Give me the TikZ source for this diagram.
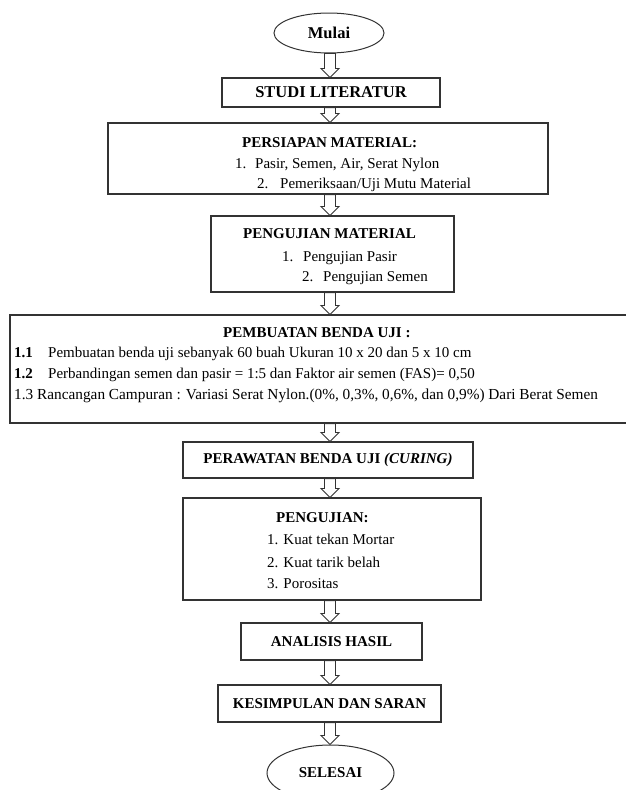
\documentclass[tikz,border=0pt]{standalone}
\usepackage{fontspec}
\setmainfont{Liberation Serif}
\usetikzlibrary{calc,shapes.geometric}
\definecolor{boxline}{gray}{0.2}
\tikzset{
  box/.style={draw=boxline, line width=1.1pt, inner sep=0pt, fill=white, rectangle, font=\fontsize{15}{18}\selectfont\bfseries},
  oval/.style={draw=boxline, line width=1pt, inner sep=0pt, fill=white, ellipse, font=\fontsize{15}{18}\selectfont\bfseries},
  txt/.style={anchor=base west, inner sep=0pt, font=\fontsize{15}{18}\selectfont},
  harrow/.style={draw=boxline, line width=0.9pt, fill=white, line join=miter},
}
\newcommand\hollowarrow[2]{%
  \draw[harrow] let \p1=(#1.south), \p2=(#2.north), \p3=(axis) in
    (\x3-5.5pt,\y1) -- (\x3+5.5pt,\y1) -- (\x3+5.5pt,\y2+9pt) -- (\x3+9pt,\y2+9pt)
    -- (\x3,\y2) -- (\x3-9pt,\y2+9pt) -- (\x3-5.5pt,\y2+9pt) -- cycle;}
\begin{document}
\begin{tikzpicture}[x=1pt,y=-1pt]
\useasboundingbox (0,0) rectangle (626,790);
\clip (0,0) rectangle (626,790);
\fill[white] (0,0) rectangle (626,790);
\coordinate (axis) at (330,0);

% boxes
\node[oval, minimum width=110pt, minimum height=40pt, font=\fontsize{16.5}{18}\selectfont\bfseries] (mulai) at (329,33) {Mulai};
\node[box, minimum width=218pt, minimum height=29pt, font=\fontsize{16.5}{18}\selectfont\bfseries] (studi) at (331,92.5) {STUDI LITERATUR};
\node[box, minimum width=440pt, minimum height=71pt] (persiapan) at (328,158.5) {};
\node[box, minimum width=243pt, minimum height=76pt] (pengmat) at (332.5,254) {};
\node[box, minimum width=630pt, minimum height=108pt] (pembuatan) at (325,369) {};
\node[box, minimum width=290pt, minimum height=36pt] (perawatan) at (328,460) {PERAWATAN BENDA UJI \textit{(CURING)}};
\node[box, minimum width=298pt, minimum height=102pt] (pengujian) at (332,549) {};
\node[box, minimum width=181pt, minimum height=37pt] (analisis) at (331.5,641.5) {ANALISIS HASIL};
\node[box, minimum width=223pt, minimum height=37pt] (kesimpulan) at (329.5,703.5) {KESIMPULAN DAN SARAN};
\node[oval, minimum width=127pt, minimum height=56pt] (selesai) at (330.5,773) {SELESAI};

% texts: persiapan
\node[txt, font=\fontsize{15}{18}\selectfont\bfseries] (t1) at (242,147) {PERSIAPAN MATERIAL:};
\node[txt] (t2) at (235,168) {\makebox[20pt][l]{1.}Pasir, Semen, Air, Serat Nylon};
\node[txt] (t3) at (257,188) {\makebox[23pt][l]{2.}Pemeriksaan/Uji Mutu Material};
% pengujian material
\node[txt, font=\fontsize{15}{18}\selectfont\bfseries] (t4) at (243,238) {PENGUJIAN MATERIAL};
\node[txt] (t5) at (282,261) {\makebox[21pt][l]{1.}Pengujian Pasir};
\node[txt] (t6) at (302,281) {\makebox[21pt][l]{2.}Pengujian Semen};
% pembuatan
\node[txt, font=\fontsize{15}{18}\selectfont\bfseries] (t7) at (223,337) {PEMBUATAN BENDA UJI :};
\node[txt] (t8) at (14,357) {\makebox[34pt][l]{\bfseries 1.1}Pembuatan benda uji sebanyak 60 buah Ukuran 10 x 20 dan 5 x 10 cm};
\node[txt] (t9) at (14,378) {\makebox[34pt][l]{\bfseries 1.2}Perbandingan semen dan pasir = 1:5 dan Faktor air semen (FAS)= 0,50};
\node[txt, font=\fontsize{15.3}{18}\selectfont] (t10) at (14,399) {\makebox[23pt][l]{1.3}Rancangan Campuran : Variasi Serat Nylon.(0\%, 0,3\%, 0,6\%, dan 0,9\%) Dari Berat Semen};
% pengujian
\node[txt, font=\fontsize{15}{18}\selectfont\bfseries] (t11) at (276,522) {PENGUJIAN:};
\node[txt] (t12) at (267,544) {1. Kuat tekan Mortar};
\node[txt] (t13) at (267,567) {2. Kuat tarik belah};
\node[txt] (t14) at (267,588) {3. Porositas};

% arrows
\hollowarrow{mulai}{studi}
\hollowarrow{studi}{persiapan}
\hollowarrow{persiapan}{pengmat}
\hollowarrow{pengmat}{pembuatan}
\hollowarrow{pembuatan}{perawatan}
\hollowarrow{perawatan}{pengujian}
\hollowarrow{pengujian}{analisis}
\hollowarrow{analisis}{kesimpulan}
\hollowarrow{kesimpulan}{selesai}
\end{tikzpicture}
\end{document}
